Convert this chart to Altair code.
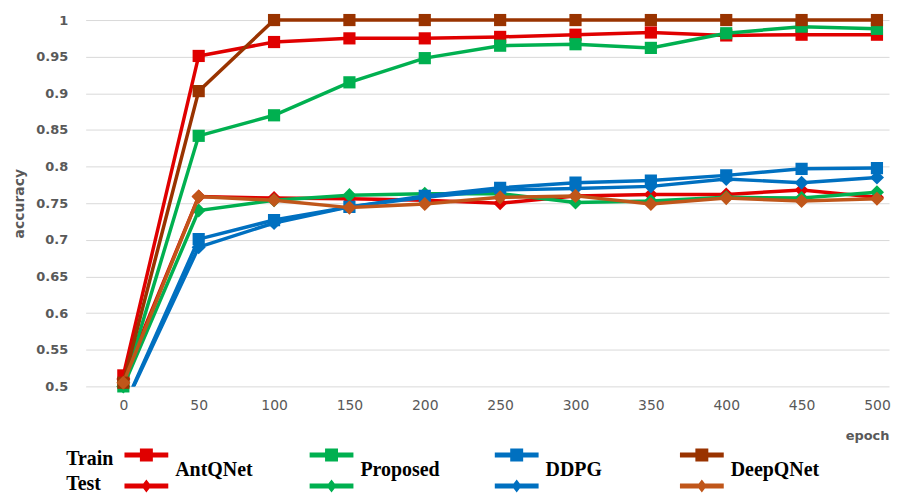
import altair as alt
import pandas as pd

epochs = [0, 50, 100, 150, 200, 250, 300, 350, 400, 450, 500]
y_ticks = [0.5, 0.55, 0.6, 0.65, 0.7, 0.75, 0.8, 0.85, 0.9, 0.95, 1.0]
series_names = ["AntQNet", "Proposed", "DDPG", "DeepQNet"]
kinds = ["Train", "Test"]

antqnet_train = [0.515, 0.951, 0.970, 0.975, 0.975, 0.977, 0.980, 0.983, 0.979, 0.980, 0.980]
antqnet_test = [0.510, 0.759, 0.757, 0.756, 0.754, 0.750, 0.760, 0.762, 0.762, 0.768, 0.758]
proposed_train = [0.500, 0.842, 0.870, 0.915, 0.948, 0.965, 0.967, 0.962, 0.982, 0.991, 0.988]
proposed_test = [0.500, 0.740, 0.754, 0.761, 0.763, 0.763, 0.751, 0.753, 0.758, 0.757, 0.765]
ddpg_train = [0.470, 0.701, 0.727, 0.745, 0.760, 0.771, 0.778, 0.781, 0.788, 0.797, 0.798]
ddpg_test = [0.470, 0.690, 0.723, 0.745, 0.758, 0.768, 0.770, 0.773, 0.783, 0.778, 0.785]
deepqnet_train = [0.505, 0.903, 1.0, 1.0, 1.0, 1.0, 1.0, 1.0, 1.0, 1.0, 1.0]
deepqnet_test = [0.505, 0.759, 0.754, 0.744, 0.749, 0.758, 0.760, 0.749, 0.757, 0.753, 0.756]

values = {
    ("AntQNet", "Train"): antqnet_train,
    ("AntQNet", "Test"): antqnet_test,
    ("Proposed", "Train"): proposed_train,
    ("Proposed", "Test"): proposed_test,
    ("DDPG", "Train"): ddpg_train,
    ("DDPG", "Test"): ddpg_test,
    ("DeepQNet", "Train"): deepqnet_train,
    ("DeepQNet", "Test"): deepqnet_test,
}

rows = []
for s in series_names:
    for k in kinds:
        for e, v in zip(epochs, values[(s, k)]):
            rows.append({"epoch": e, "accuracy": v, "series": s, "kind": k, "key": f"{s} {k}"})
df = pd.DataFrame(rows)

key_domain = [f"{s} {k}" for s in series_names for k in kinds]
key_colors = ["#E00000", "#E00000", "#00B050", "#00B050",
              "#0070C0", "#0070C0", "#993300", "#C0561A"]

color = alt.Color("key:N", scale=alt.Scale(domain=key_domain, range=key_colors), legend=None)
shape = alt.Shape("kind:N", scale=alt.Scale(domain=kinds, range=["square", "diamond"]), legend=None)
size = alt.Size("kind:N", scale=alt.Scale(domain=kinds, range=[150, 200]), legend=None)

gray = "#595959"
x = alt.X(
    "epoch:Q",
    scale=alt.Scale(domain=[-25, 508], nice=False, zero=False),
    axis=alt.Axis(values=epochs, grid=False, domain=False, ticks=False, labelPadding=12,
                  labelFont="DejaVu Sans", labelFontSize=14, labelColor=gray,
                  title="epoch", titleAnchor="end", titleAlign="right", titleFont="DejaVu Sans",
                  titleFontSize=13, titleFontWeight="bold", titleColor=gray, titlePadding=17),
)
y = alt.Y(
    "accuracy:Q",
    scale=alt.Scale(domain=[0.5, 1.0], nice=False, zero=False),
    axis=alt.Axis(values=y_ticks, format="~g", grid=True, gridColor="#D9D9D9", gridWidth=1,
                  domain=False, ticks=False, labelPadding=18, labelFont="DejaVu Sans",
                  labelFontSize=13, labelFontWeight="bold", labelColor=gray,
                  title="accuracy", titleFont="DejaVu Sans", titleFontSize=14,
                  titleFontWeight="bold", titleColor=gray, titlePadding=9),
)

base = alt.Chart(df)
layers = []
for s in series_names:
    sub = base.transform_filter(alt.datum.series == s)
    clip = s == "DDPG"
    layers.append(sub.mark_line(strokeWidth=3.5, clip=clip).encode(
        x=x, y=y, color=color, detail="kind:N"))
    layers.append(sub.mark_point(filled=True, opacity=1, clip=clip).encode(
        x=x, y=y, color=color, shape=shape, size=size))

main = alt.layer(*layers).properties(width=807, height=368)

# legend
legend_rows = []
for s in series_names:
    for k in kinds:
        legend_rows.append({"series": s, "row": k, "kind": k, "key": f"{s} {k}"})
legend_df = pd.DataFrame(legend_rows)
name_df = pd.DataFrame({"series": series_names, "row": ["mid"] * len(series_names)})

train_path = "M-2.2,-0.25H2.2V0.25H-2.2Z M-0.65,-0.65H0.65V0.65H-0.65Z"
test_path = "M-2.2,-0.25H2.2V0.25H-2.2Z M0,-0.65L0.5,0L0,0.65L-0.5,0Z"

lx = alt.X("series:N", scale=alt.Scale(type="point", domain=series_names, padding=0.328), axis=None)
ly = alt.Y("row:N", scale=alt.Scale(type="point", domain=["Train", "mid", "Test"], padding=0),
           axis=alt.Axis(values=["Train", "Test"], title=None, domain=False, ticks=False, tickSize=0,
                         grid=False, labelAlign="left", labelPadding=20, labelFont="Liberation Serif",
                         labelFontWeight="bold", labelFontSize=20, labelColor="black",
                         labelOffset={"condition": {"test": "datum.value == 'Train'", "value": 3},
                                      "value": -2}))

legend_sym = alt.Chart(legend_df).mark_point(filled=True, opacity=1, size=400).encode(
    x=lx, y=ly, color=color,
    shape=alt.Shape("kind:N", scale=alt.Scale(domain=kinds, range=[train_path, test_path]), legend=None),
)
legend_txt = alt.Chart(name_df).mark_text(
    align="left", baseline="middle", dx=29, font="Liberation Serif", fontWeight="bold",
    fontSize=20, color="black").encode(x=lx, y=ly, text="series:N")

legend = alt.layer(legend_sym, legend_txt).properties(width=680, height=31)

chart = alt.vconcat(main, legend, spacing=6).resolve_scale(
    shape="independent", size="independent"
).properties(
    padding={"left": 4, "top": 4, "right": 0, "bottom": 0}
).configure_view(strokeWidth=0)

chart.save("out.html", embed_options={"renderer": "svg", "actions": False})
